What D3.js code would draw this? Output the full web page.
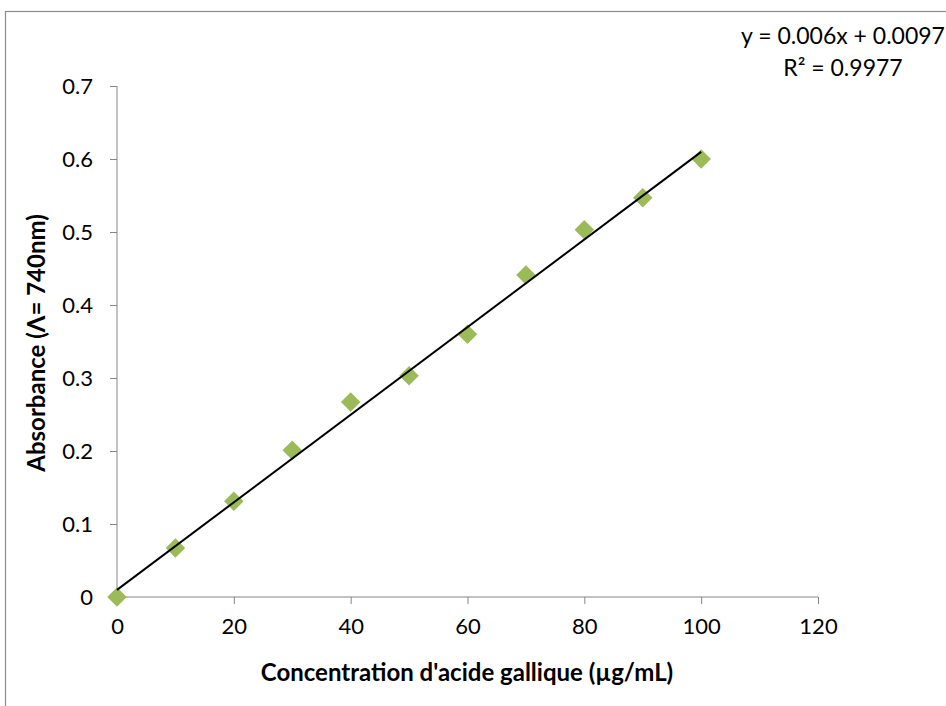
<!DOCTYPE html>
<html lang="fr">
<head>
    <meta charset="UTF-8">
    <title>Courbe d'étalonnage acide gallique</title>
    <script src="https://d3js.org/d3.v7.min.js"></script>
    <style>
        body { margin: 0; background: #fff; font-family: Lato, "Open Sans", sans-serif; }
        .axis path, .axis line { stroke: #868686; }
        .axis-title { font-size: 24px; font-weight: bold; fill: #000; }
        .eq { font-size: 23px; fill: #000; }
    </style>
</head>
<body>
<div id="chart"></div>
<script>
    // Data
    const concentrations = [0, 10, 20, 30, 40, 50, 60, 70, 80, 90, 100];
    const absorbances = [0, 0.067, 0.131, 0.201, 0.267, 0.303, 0.360, 0.441, 0.503, 0.547, 0.600];
    const xTicks = [0, 20, 40, 60, 80, 100, 120];
    const yTicks = [0, 0.1, 0.2, 0.3, 0.4, 0.5, 0.6, 0.7];
    const slope = 0.006, intercept = 0.0097;
    const equationLines = ["y = 0.006x + 0.0097", "R² = 0.9977"];

    const W = 946, H = 706;
    const margin = {top: 86, right: 128, bottom: 109, left: 117};
    const width = W - margin.left - margin.right,
          height = H - margin.top - margin.bottom;

    const root = d3.select("#chart").append("svg")
        .attr("width", W).attr("height", H);

    // chart frame (runs off the right and bottom edges)
    root.append("rect")
        .attr("x", 5.5).attr("y", 11.5)
        .attr("width", W + 10).attr("height", H + 10)
        .attr("fill", "none").attr("stroke", "#8c8c8c").attr("stroke-width", 1.2);

    const svg = root.append("g").attr("transform", `translate(${margin.left},${margin.top})`);

    const x = d3.scaleLinear().domain([0, 120]).range([0, width]);
    const y = d3.scaleLinear().domain([0, 0.7]).range([height, 0]);

    // axes
    svg.append("g")
        .attr("class", "axis")
        .attr("transform", `translate(0,${height})`)
        .call(d3.axisBottom(x).tickValues(xTicks).tickSize(7).tickPadding(14).tickFormat(d3.format("d")))
        .call(g => g.select(".domain").attr("d", `M0,0H${width}`));

    svg.append("g")
        .attr("class", "axis")
        .call(d3.axisLeft(y).tickValues(yTicks).tickSize(7).tickPadding(17).tickFormat(d => d === 0 ? "0" : d3.format(".1f")(d)))
        .call(g => g.select(".domain").attr("d", `M0,0V${height}`));

    svg.selectAll(".tick text")
        .attr("font-size", 22)
        .attr("font-family", "Lato, 'Open Sans', sans-serif")
        .attr("fill", "#000");

    // linear trendline
    const trend = d3.line().x(d => x(d)).y(d => y(slope * d + intercept));

    // diamond markers
    const diamond = d3.symbol().type(d3.symbolSquare).size(190);
    svg.selectAll(".pt")
        .data(concentrations.map((c, i) => ({c, a: absorbances[i]})))
        .join("path")
        .attr("class", "pt")
        .attr("d", diamond)
        .attr("transform", d => `translate(${x(d.c)},${y(d.a)}) rotate(45)`)
        .attr("fill", "#9bbb59");

    svg.append("path")
        .datum([0, 100])
        .attr("d", trend)
        .attr("fill", "none")
        .attr("stroke", "#000")
        .attr("stroke-width", 2);

    // axis titles
    svg.append("text")
        .attr("class", "axis-title")
        .attr("x", 467 - margin.left)
        .attr("y", height + 84)
        .attr("text-anchor", "middle")
        .text("Concentration d'acide gallique (µg/mL)");

    svg.append("text")
        .attr("class", "axis-title")
        .attr("transform", "rotate(-90)")
        .attr("x", -(343 - margin.top))
        .attr("y", -72)
        .attr("text-anchor", "middle")
        .text("Absorbance (\u039B= 740nm)");

    // trendline equation
    root.selectAll(".eq")
        .data(equationLines)
        .join("text")
        .attr("class", "eq")
        .attr("x", 843)
        .attr("y", (d, i) => 44 + i * 32)
        .attr("text-anchor", "middle")
        .text(d => d);
</script>
</body>
</html>
